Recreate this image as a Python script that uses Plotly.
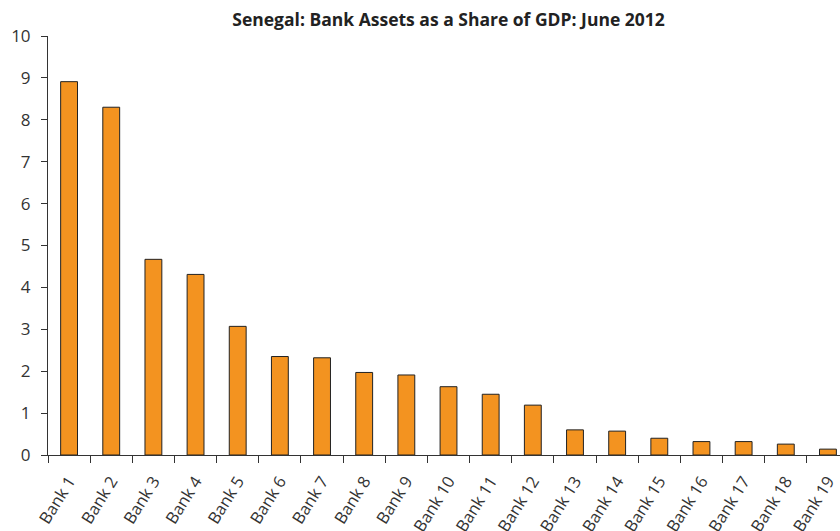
import plotly.graph_objects as go

banks = [f"Bank {i}" for i in range(1, 20)]
assets_pct_gdp = [8.91, 8.30, 4.67, 4.31, 3.07, 2.35, 2.32, 1.97, 1.91, 1.63,
                  1.45, 1.19, 0.60, 0.57, 0.40, 0.32, 0.32, 0.26, 0.14]
y_ticks = list(range(0, 11))

font_family = "'Open Sans', sans-serif"

fig = go.Figure(
    go.Bar(
        x=banks,
        y=assets_pct_gdp,
        width=0.4,
        marker=dict(color="#F39320", line=dict(color="#222222", width=1)),
    )
)

fig.update_layout(
    width=840,
    height=531,
    margin=dict(l=48, r=0, t=36, b=76),
    plot_bgcolor="white",
    paper_bgcolor="white",
    showlegend=False,
    title=dict(
        text="<b>Senegal: Bank Assets as a Share of GDP: June 2012</b>",
        x=0.534,
        xanchor="center",
        y=0.963,
        yanchor="middle",
        font=dict(family=font_family, size=17.5, color="#222222"),
    ),
    font=dict(family=font_family, color="#333333"),
)

fig.update_xaxes(
    type="category",
    range=[-0.5, 18.286],
    automargin=False,
    showline=True,
    linecolor="#333333",
    linewidth=1,
    ticks="outside",
    tickson="boundaries",
    ticklen=7,
    tickcolor="#333333",
    tickangle=-58,
    ticklabelstandoff=9,
    tickfont=dict(size=16.5, color="#333333"),
    showgrid=False,
)

fig.update_yaxes(
    range=[0, 10],
    tickvals=y_ticks,
    automargin=False,
    showline=True,
    linecolor="#333333",
    linewidth=1,
    ticks="outside",
    ticklen=6,
    tickcolor="#333333",
    ticklabelstandoff=7,
    tickfont=dict(size=17, color="#333333"),
    showgrid=False,
    zeroline=False,
)

fig.write_html("out.html")
